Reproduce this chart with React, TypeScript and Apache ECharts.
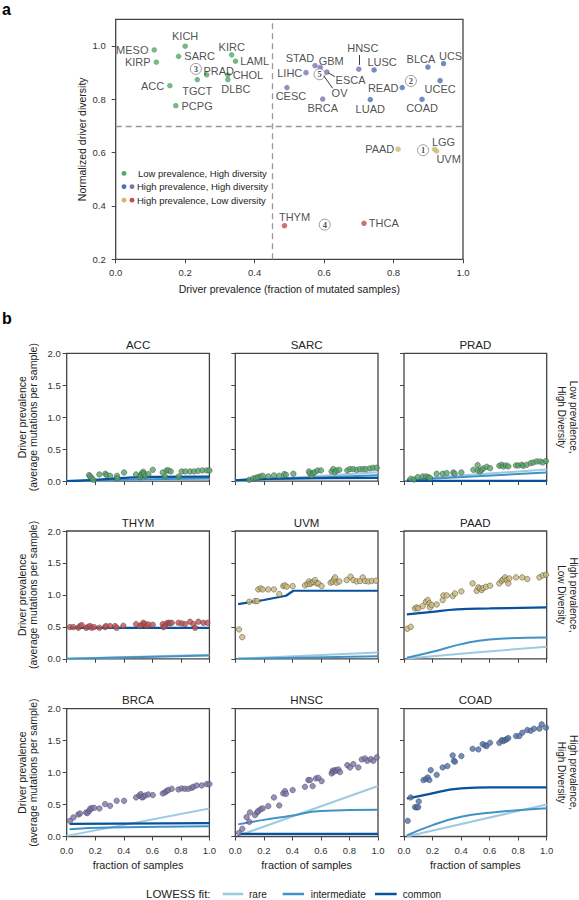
import React, { useEffect, useRef } from 'react';
import * as echarts from 'echarts';

const FONT = '"Liberation Sans", Arial, Helvetica, sans-serif';

// ---------- Panel a data ----------
const greenNames = ['MESO', 'KIRP', 'KICH', 'SARC', 'ACC', 'TGCT', 'PRAD', 'PCPG', 'KIRC', 'LAML', 'CHOL', 'DLBC'];
const greenX = [0.111, 0.117, 0.2, 0.181, 0.156, 0.235, 0.262, 0.173, 0.334, 0.345, 0.323, 0.323];
const greenY = [0.985, 0.939, 0.999, 0.961, 0.851, 0.874, 0.892, 0.776, 0.967, 0.943, 0.891, 0.874];
const purpleNames = ['STAD', 'GBM', 'LIHC', 'ESCA', 'OV', 'CESC', 'BRCA', 'HNSC'];
const purpleX = [0.574, 0.589, 0.548, 0.608, 0.587, 0.493, 0.596, 0.7];
const purpleY = [0.926, 0.92, 0.9, 0.902, 0.894, 0.844, 0.801, 0.913];
const blueNames = ['LUSC', 'READ', 'LUAD', 'BLCA', 'UCS', 'UCEC', 'COAD'];
const blueX = [0.744, 0.825, 0.733, 0.899, 0.944, 0.934, 0.882];
const blueY = [0.91, 0.844, 0.799, 0.921, 0.934, 0.87, 0.8];
const yellowNames = ['PAAD', 'LGG', 'UVM'];
const yellowX = [0.813, 0.918, 0.924];
const yellowY = [0.613, 0.613, 0.606];
const redNames = ['THYM', 'THCA'];
const redX = [0.486, 0.715];
const redY = [0.326, 0.335];
const markerLabels = ['1', '2', '3', '4', '5'];
const markerX = [0.885, 0.85, 0.231, 0.602, 0.587];
const markerY = [0.609, 0.869, 0.914, 0.33, 0.894];
const connectorLines = [
  [[0.612, 0.899], [0.631, 0.885]],
  [[0.599, 0.888], [0.625, 0.841]],
  [[0.7, 0.929], [0.7, 0.966]],
];
const prevalenceCut = 0.45;
const diversityCut = 0.7;
const yTicksA = [0.2, 0.4, 0.6, 0.8, 1.0];
const legendA = ['Low prevalence, High diversity', 'High prevalence, High diversity', 'High prevalence, Low diversity'];

// ---------- Panel b data ----------
const panelNames = ['ACC', 'SARC', 'PRAD', 'THYM', 'UVM', 'PAAD', 'BRCA', 'HNSC', 'COAD'];
const rowLabels = ['Low prevalence,\nHigh Diversity', 'High prevalence,\nLow Diversity', 'High prevalence,\nHigh Diversity'];
const fitNames = ['rare', 'intermediate', 'common'];

const accPoints = [[0.157,0.094],[0.164,0.073],[0.175,0.047],[0.187,0.02],[0.229,0.104],[0.271,0.115],[0.28,0.094],[0.304,0.083],[0.353,0.083],[0.355,0.042],[0.402,0.135],[0.486,0.104],[0.514,0.062],[0.519,0.094],[0.528,0.125],[0.537,0.146],[0.542,0.115],[0.551,0.083],[0.572,0.109],[0.603,0.177],[0.673,0.135],[0.689,0.073],[0.701,0.167],[0.713,0.167],[0.729,0.151],[0.785,0.073],[0.806,0.151],[0.832,0.151],[0.864,0.151],[0.893,0.151],[0.921,0.161],[0.951,0.167],[0.981,0.167],[1.0,0.167]];
const accRare = [[0, 0], [1, 0.035]];
const accInter = [[0, 0], [0.5, 0.025], [1, 0.045]];
const accCommon = [[0, 0], [0.2, 0.02], [0.4, 0.05], [0.6, 0.065], [1, 0.07]];

const sarcPoints = [[0.098,0.021],[0.126,0.042],[0.145,0.052],[0.161,0.062],[0.178,0.073],[0.192,0.083],[0.231,0.073],[0.271,0.089],[0.308,0.083],[0.343,0.109],[0.355,0.099],[0.407,0.115],[0.516,0.151],[0.523,0.12],[0.535,0.089],[0.547,0.125],[0.558,0.141],[0.577,0.167],[0.6,0.167],[0.675,0.151],[0.687,0.188],[0.699,0.141],[0.71,0.167],[0.729,0.177],[0.785,0.167],[0.804,0.188],[0.827,0.188],[0.85,0.177],[0.874,0.188],[0.897,0.188],[0.916,0.188],[0.944,0.198],[0.967,0.208],[0.991,0.208]];
const sarcRare = [[0, 0], [1, 0.14]];
const sarcInter = [[0, 0.01], [1, 0.09]];
const sarcCommon = [[0, 0.01], [0.3, 0.04], [1, 0.05]];

const pradPoints = [[0.047,0.036],[0.07,0.026],[0.096,0.062],[0.131,0.073],[0.154,0.073],[0.171,0.062],[0.182,0.047],[0.229,0.115],[0.271,0.115],[0.299,0.125],[0.346,0.135],[0.355,0.115],[0.402,0.135],[0.486,0.177],[0.516,0.25],[0.516,0.167],[0.533,0.151],[0.544,0.177],[0.556,0.198],[0.579,0.224],[0.603,0.203],[0.668,0.24],[0.685,0.255],[0.696,0.229],[0.715,0.245],[0.731,0.229],[0.785,0.245],[0.801,0.245],[0.825,0.255],[0.836,0.24],[0.86,0.255],[0.888,0.281],[0.907,0.292],[0.93,0.307],[0.953,0.307],[0.972,0.292],[0.995,0.313]];
const pradRare = [[0.02, 0.03], [1, 0.18]];
const pradInter = [[0.02, 0.016], [1, 0.135]];
const pradCommon = [[0.02, 0.003], [1, 0.003]];

const thymPoints = [[0.023,0.496],[0.047,0.496],[0.082,0.486],[0.093,0.512],[0.105,0.527],[0.136,0.486],[0.152,0.501],[0.164,0.512],[0.175,0.486],[0.192,0.496],[0.229,0.486],[0.269,0.496],[0.276,0.512],[0.304,0.512],[0.339,0.512],[0.35,0.486],[0.397,0.517],[0.486,0.543],[0.514,0.512],[0.526,0.533],[0.537,0.564],[0.549,0.543],[0.561,0.512],[0.572,0.538],[0.603,0.533],[0.673,0.543],[0.678,0.496],[0.689,0.512],[0.701,0.554],[0.713,0.564],[0.724,0.554],[0.736,0.564],[0.783,0.564],[0.806,0.554],[0.829,0.543],[0.864,0.58],[0.888,0.543],[0.9,0.486],[0.923,0.58],[0.958,0.564],[0.986,0.564]];
const thymRare = [[0, 0], [1, 0.065]];
const thymInter = [[0, 0], [1, 0.05]];
const thymCommon = [[0.02, 0.485], [1, 0.483]];

const uvmPoints = [[0.026,0.46],[0.049,0.339],[0.098,0.893],[0.138,0.903],[0.154,0.903],[0.161,1.086],[0.178,1.102],[0.192,1.086],[0.231,1.086],[0.271,1.086],[0.308,1.013],[0.336,1.138],[0.348,1.149],[0.36,1.128],[0.402,1.138],[0.488,1.149],[0.505,1.17],[0.516,1.211],[0.523,1.17],[0.535,1.191],[0.547,1.201],[0.558,1.232],[0.57,1.18],[0.582,1.18],[0.605,1.138],[0.668,1.191],[0.682,1.206],[0.692,1.243],[0.699,1.274],[0.71,1.191],[0.729,1.211],[0.78,1.232],[0.808,1.285],[0.827,1.232],[0.85,1.211],[0.874,1.217],[0.893,1.274],[0.909,1.217],[0.932,1.211],[0.956,1.217],[0.986,1.222]];
const uvmRare = [[0.02, 0], [1, 0.1]];
const uvmInter = [[0.02, 0], [1, 0.04]];
const uvmCommon = [[0.02, 0.856], [0.2, 0.92], [0.355, 0.987], [0.407, 1.065], [1, 1.065]];

const paadPoints = [[0.023,0.47],[0.047,0.501],[0.077,0.789],[0.089,0.804],[0.1,0.789],[0.131,0.825],[0.154,0.893],[0.166,0.919],[0.178,0.867],[0.182,0.804],[0.194,0.841],[0.229,0.851],[0.271,0.919],[0.276,0.992],[0.299,0.992],[0.341,0.982],[0.357,1.023],[0.402,1.055],[0.481,1.18],[0.509,1.065],[0.521,1.117],[0.533,1.102],[0.544,1.076],[0.556,1.107],[0.575,1.128],[0.603,1.144],[0.668,1.18],[0.685,1.222],[0.696,1.243],[0.708,1.274],[0.72,1.232],[0.731,1.18],[0.738,1.258],[0.785,1.274],[0.829,1.274],[0.864,1.248],[0.949,1.274],[0.972,1.305],[0.995,1.316]];
const paadRare = [[0.02, 0.005], [0.5, 0.1], [1, 0.188]];
const paadInter = [[0.02, 0.016], [0.2, 0.11], [0.4, 0.23], [0.6, 0.303], [1, 0.334]];
const paadCommon = [[0.02, 0.695], [0.18, 0.731], [0.37, 0.773], [0.6, 0.789], [1, 0.804]];

const brcaPoints = [[0.023,0.245],[0.047,0.298],[0.082,0.345],[0.093,0.36],[0.136,0.376],[0.145,0.366],[0.159,0.402],[0.164,0.433],[0.175,0.444],[0.192,0.449],[0.229,0.439],[0.269,0.507],[0.304,0.48],[0.35,0.559],[0.402,0.559],[0.486,0.611],[0.509,0.642],[0.519,0.663],[0.528,0.611],[0.537,0.621],[0.551,0.642],[0.572,0.658],[0.603,0.648],[0.673,0.674],[0.689,0.689],[0.701,0.715],[0.713,0.726],[0.736,0.747],[0.783,0.736],[0.806,0.752],[0.829,0.747],[0.853,0.747],[0.876,0.762],[0.888,0.778],[0.911,0.799],[0.946,0.799],[0.981,0.82],[1.0,0.82]];
const brcaRare = [[0, 0.01], [1, 0.439]];
const brcaInter = [[0.02, 0.115], [0.3, 0.14], [1, 0.162]];
const brcaCommon = [[0.02, 0.198], [1, 0.21]];

const hnscPoints = [[0.026,0.057],[0.049,0.12],[0.079,0.303],[0.098,0.23],[0.103,0.376],[0.138,0.334],[0.154,0.381],[0.161,0.397],[0.178,0.428],[0.192,0.439],[0.231,0.475],[0.271,0.611],[0.308,0.486],[0.336,0.674],[0.348,0.71],[0.355,0.668],[0.402,0.726],[0.488,0.778],[0.512,0.883],[0.523,0.883],[0.542,0.789],[0.565,0.909],[0.582,0.919],[0.605,0.867],[0.675,0.987],[0.682,1.029],[0.687,1.008],[0.699,1.039],[0.71,1.029],[0.722,1.05],[0.734,1.008],[0.785,1.117],[0.804,1.081],[0.827,1.133],[0.862,1.081],[0.886,1.206],[0.909,1.222],[0.925,1.185],[0.949,1.211],[0.967,1.185],[0.991,1.238]];
const hnscRare = [[0.03, 0.02], [1, 0.79]];
const hnscInter = [[0.02, 0.19], [0.2, 0.26], [0.38, 0.32], [0.6, 0.4], [1, 0.42]];
const hnscCommon = [[0.03, 0.04], [1, 0.04]];

const coadPoints = [[0.026,0.245],[0.047,0.611],[0.077,0.46],[0.089,0.454],[0.1,0.46],[0.103,0.548],[0.136,0.883],[0.154,0.898],[0.166,0.924],[0.178,0.883],[0.187,1.039],[0.229,0.966],[0.271,1.081],[0.304,1.102],[0.341,1.269],[0.35,1.185],[0.357,1.17],[0.402,1.258],[0.481,1.373],[0.521,1.363],[0.551,1.446],[0.568,1.426],[0.579,1.415],[0.603,1.467],[0.668,1.467],[0.685,1.509],[0.696,1.493],[0.708,1.509],[0.72,1.525],[0.731,1.54],[0.785,1.572],[0.808,1.572],[0.829,1.624],[0.864,1.666],[0.888,1.655],[0.911,1.687],[0.949,1.687],[0.965,1.755],[0.995,1.702]];
const coadRare = [[0.02, 0], [1, 0.501]];
const coadInter = [[0.02, 0.016], [0.2, 0.178], [0.4, 0.308], [0.6, 0.371], [1, 0.444]];
const coadCommon = [[0.02, 0.595], [0.14, 0.648], [0.4, 0.752], [0.6, 0.768], [1, 0.768]];

const panelPoints = [accPoints, sarcPoints, pradPoints, thymPoints, uvmPoints, paadPoints, brcaPoints, hnscPoints, coadPoints];
const panelRare = [accRare, sarcRare, pradRare, thymRare, uvmRare, paadRare, brcaRare, hnscRare, coadRare];
const panelInter = [accInter, sarcInter, pradInter, thymInter, uvmInter, paadInter, brcaInter, hnscInter, coadInter];
const panelCommon = [accCommon, sarcCommon, pradCommon, thymCommon, uvmCommon, paadCommon, brcaCommon, hnscCommon, coadCommon];

// ---------- Styles ----------
const GREEN = '#55a868';
const BLUE = '#4c72b0';
const PURPLE = '#8172b2';
const YELLOW = '#ccb974';
const RED = '#c44e52';
const FIT_COLORS = ['#9ecae1', '#4292c6', '#08519c'];
const PANEL_COLORS = [GREEN, GREEN, GREEN, RED, YELLOW, YELLOW, PURPLE, PURPLE, BLUE];
const FRAME = '#444';
const TXT = '#222';

const labelPlacement: Record<string, any> = {
  MESO: { position: 'left', distance: 3 },
  KIRP: { position: 'left', distance: 3 },
  KICH: { position: 'top', distance: 2 },
  SARC: { position: 'right', distance: 3 },
  ACC: { position: 'left', distance: 3 },
  TGCT: { position: 'bottom', distance: 3 },
  PRAD: { position: 'top', distance: 0, offset: [12, 4] },
  PCPG: { position: 'right', distance: 3 },
  KIRC: { position: 'top', distance: 0 },
  LAML: { position: 'right', distance: 2 },
  CHOL: { position: 'right', distance: 2 },
  DLBC: { position: 'bottom', distance: 1, offset: [8, 0] },
  STAD: { position: 'top', distance: 0, offset: [-15, 1] },
  GBM: { position: 'top', distance: 0, offset: [11, 1.5] },
  LIHC: { position: 'left', distance: 1 },
  ESCA: { position: 'right', distance: 6, offset: [0, 8] },
  OV: { position: 'inside', offset: [20, 19] },
  CESC: { position: 'bottom', distance: 0, offset: [4, 0] },
  BRCA: { position: 'bottom', distance: 1 },
  HNSC: { position: 'top', distance: 13, offset: [4, 0] },
  LUSC: { position: 'top', distance: 0, offset: [8, 0] },
  READ: { position: 'left', distance: 1 },
  LUAD: { position: 'bottom', distance: 1 },
  BLCA: { position: 'top', distance: 0, offset: [-7, 0] },
  UCS: { position: 'top', distance: 0, offset: [7, 1] },
  UCEC: { position: 'bottom', distance: 0 },
  COAD: { position: 'bottom', distance: 0 },
  PAAD: { position: 'left', distance: 1 },
  LGG: { position: 'top', distance: 0, offset: [9, 1] },
  UVM: { position: 'bottom', distance: 0, offset: [12, 0] },
  THYM: { position: 'top', distance: 0, offset: [10, 0] },
  THCA: { position: 'right', distance: 2 },
};

const TOP_GRID = { left: 115.7, top: 19.3, width: 347.3, height: 240 };
const COL_LEFT = [66.7, 235.3, 404];
const ROW_TOP = [353.3, 531, 708.7];
const PANEL_W = 142.7;
const PANEL_H = 127.8;
const LEGEND_Y = 894;
const LEGEND_ITEMS_X = [[222.7, 243.3, 249], [282.7, 304, 310.7], [375, 396.7, 402.7]];

function buildOption() {
  const grids: any[] = [{ ...TOP_GRID, show: true, borderColor: FRAME, borderWidth: 1.3, backgroundColor: 'transparent' }];
  const xAxes: any[] = [
    {
      gridIndex: 0, type: 'value', min: 0, max: 1, interval: 0.2,
      axisLine: { show: false }, splitLine: { show: false },
      axisTick: { show: true, length: 4, lineStyle: { color: FRAME, width: 1 } },
      axisLabel: { fontSize: 9.5, color: '#333', margin: 8, fontFamily: FONT, formatter: (v: number) => v.toFixed(1) },
    },
  ];
  const yAxes: any[] = [
    {
      gridIndex: 0, type: 'value', min: 0.2, max: 1.1, interval: 0.2,
      axisLine: { show: false }, splitLine: { show: false },
      axisTick: { show: true, length: 4, customValues: yTicksA, lineStyle: { color: FRAME, width: 1 } },
      axisLabel: { fontSize: 9.5, color: '#333', margin: 10, fontFamily: FONT, customValues: yTicksA, formatter: (v: number) => v.toFixed(1) },
    },
  ];

  const series: any[] = [];
  const topLabel = { show: true, fontSize: 11, color: TXT, fontFamily: FONT, formatter: '{b}' };
  const addTop = (names: string[], xs: number[], ys: number[], color: string) => {
    series.push({
      type: 'scatter', xAxisIndex: 0, yAxisIndex: 0, z: 3, symbolSize: 5.5,
      itemStyle: { color }, label: topLabel,
      data: names.map((n, i) => ({
        name: n, value: [xs[i], ys[i]],
        symbolSize: n === 'OV' ? 0 : 5.5,
        label: labelPlacement[n],
      })),
    });
  };
  addTop(greenNames, greenX, greenY, GREEN);
  addTop(purpleNames, purpleX, purpleY, PURPLE);
  addTop(blueNames, blueX, blueY, BLUE);
  addTop(yellowNames, yellowX, yellowY, YELLOW);
  addTop(redNames, redX, redY, RED);

  // connectors
  series.push({
    type: 'line', xAxisIndex: 0, yAxisIndex: 0, data: [], z: 2,
    markLine: {
      silent: true, symbol: ['none', 'none'], label: { show: false },
      lineStyle: { color: '#222', width: 0.9, type: 'solid' },
      data: connectorLines.map((seg) => [{ coord: seg[0] }, { coord: seg[1] }]),
    },
  });
  // circled markers + dashed separators
  series.push({
    type: 'scatter', xAxisIndex: 0, yAxisIndex: 0, z: 4, symbol: 'circle', symbolSize: 11,
    itemStyle: { color: '#fff', borderColor: '#777', borderWidth: 0.9 },
    label: { show: true, position: 'inside', formatter: '{b}', fontSize: 8.5, fontWeight: 'bold', color: '#222', fontFamily: '"Liberation Serif", "DejaVu Serif", serif' },
    data: markerLabels.map((n, i) => ({ name: n, value: [markerX[i], markerY[i]] })),
    markLine: {
      silent: true, symbol: ['none', 'none'], label: { show: false },
      lineStyle: { color: '#999', width: 1.3, type: [6, 4] },
      data: [{ xAxis: prevalenceCut }, { yAxis: diversityCut }],
    },
  });

  // panels
  for (let i = 0; i < 9; i++) {
    const row = Math.floor(i / 3);
    const col = i % 3;
    grids.push({
      left: COL_LEFT[col], top: ROW_TOP[row], width: PANEL_W, height: PANEL_H,
      show: true, borderColor: FRAME, borderWidth: 1.3, backgroundColor: 'transparent',
    });
    xAxes.push({
      gridIndex: i + 1, type: 'value', min: 0, max: 1, interval: 0.2,
      axisLine: { show: false }, splitLine: { show: false },
      axisTick: { show: true, length: 4, lineStyle: { color: FRAME, width: 1 } },
      axisLabel: { show: row === 2, fontSize: 9.5, color: '#333', margin: 9, fontFamily: FONT, formatter: (v: number) => v.toFixed(1) },
    });
    yAxes.push({
      gridIndex: i + 1, type: 'value', min: 0, max: 2, interval: 0.5,
      axisLine: { show: false }, splitLine: { show: false },
      axisTick: { show: true, length: 4, lineStyle: { color: FRAME, width: 1 } },
      axisLabel: { show: col === 0, fontSize: 9.5, color: '#333', margin: 6, fontFamily: FONT, formatter: (v: number) => v.toFixed(1) },
    });
    const fits = [panelRare[i], panelInter[i], panelCommon[i]];
    fits.forEach((d, k) => {
      series.push({
        type: 'line', name: fitNames[k], xAxisIndex: i + 1, yAxisIndex: i + 1,
        data: d, showSymbol: false, symbol: 'none', z: 2 + k * 0.1,
        smooth: i === 4 && k === 2 ? false : 0.5,
        itemStyle: { color: FIT_COLORS[k] },
        lineStyle: { color: FIT_COLORS[k], width: k === 2 ? 2.2 : 2 },
      });
    });
    series.push({
      type: 'scatter', name: panelNames[i] + ' samples', xAxisIndex: i + 1, yAxisIndex: i + 1,
      data: panelPoints[i], symbolSize: 5.5, z: 4,
      itemStyle: { color: PANEL_COLORS[i], borderColor: '#444', borderWidth: 0.6 },
    });
  }

  const graphic: any[] = [];
  const txt = (text: string, x: number, y: number, opts: any = {}) => ({
    type: 'text', x, y, rotation: opts.rotation || 0, silent: true,
    style: {
      text, fill: opts.fill || TXT, fontSize: opts.fontSize || 10.5,
      fontFamily: FONT, fontWeight: opts.fontWeight || 'normal',
      align: opts.align || 'center', verticalAlign: 'middle',
      lineHeight: opts.lineHeight,
    },
  });
  graphic.push(txt('a', 2, 9, { fontSize: 16, fontWeight: 'bold', align: 'left', fill: '#000' }));
  graphic.push(txt('b', 2, 318, { fontSize: 16, fontWeight: 'bold', align: 'left', fill: '#000' }));
  graphic.push(txt('Driver prevalence (fraction of mutated samples)', TOP_GRID.left + TOP_GRID.width / 2, 288.5, { fontSize: 10.5 }));
  graphic.push(txt('Normalized driver diversity', 81.5, TOP_GRID.top + TOP_GRID.height / 2, { fontSize: 10.5, rotation: Math.PI / 2 }));

  // top legend
  const legY = [173.3, 186.7, 200.2];
  const legDots = [[GREEN], [BLUE, PURPLE], [YELLOW, RED]];
  legDots.forEach((cols, r) => {
    cols.forEach((c, j) => {
      graphic.push({ type: 'circle', silent: true, shape: { cx: 124 + j * 8, cy: legY[r], r: 2.4 }, style: { fill: c } });
    });
    graphic.push(txt(legendA[r], r === 0 ? 138 : 137, legY[r], { fontSize: 9.5, align: 'left' }));
  });

  // panel titles and axis names
  for (let i = 0; i < 9; i++) {
    const row = Math.floor(i / 3);
    const col = i % 3;
    graphic.push(txt(panelNames[i], COL_LEFT[col] + PANEL_W / 2, ROW_TOP[row] - 8.5, { fontSize: 11.5 }));
  }
  for (let r = 0; r < 3; r++) {
    const cy = ROW_TOP[r] + PANEL_H / 2;
    graphic.push(txt('Driver prevalence\n(average mutations per sample)', 27.5, cy, { fontSize: 10.5, rotation: Math.PI / 2, lineHeight: 11.6 }));
    graphic.push(txt(rowLabels[r], 567.5, cy, { fontSize: 10, rotation: -Math.PI / 2, lineHeight: 11.4 }));
  }
  for (let c = 0; c < 3; c++) {
    graphic.push(txt('fraction of samples', COL_LEFT[c] + PANEL_W / 2, 864.5, { fontSize: 10.8 }));
  }

  // bottom legend (LOWESS fit)
  graphic.push(txt('LOWESS fit:', 146, LEGEND_Y, { fontSize: 11.5, align: 'left' }));
  fitNames.forEach((n, k) => {
    const [x1, x2, tx] = LEGEND_ITEMS_X[k];
    graphic.push({ type: 'line', silent: true, shape: { x1, y1: LEGEND_Y, x2, y2: LEGEND_Y }, style: { stroke: FIT_COLORS[k], lineWidth: 2.5 } });
    graphic.push(txt(n, tx, LEGEND_Y, { fontSize: 10, align: 'left' }));
  });

  return {
    animation: false,
    backgroundColor: '#fff',
    textStyle: { fontFamily: FONT },
    grid: grids,
    xAxis: xAxes,
    yAxis: yAxes,
    series,
    graphic,
  };
}

export default function App() {
  const ref = useRef<HTMLDivElement>(null);
  useEffect(() => {
    document.body.style.margin = '0';
    const chart = echarts.init(ref.current as HTMLDivElement, null, { renderer: 'svg' });
    chart.setOption(buildOption() as any);
    return () => chart.dispose();
  }, []);
  return <div ref={ref} style={{ width: 579, height: 900 }} />;
}
